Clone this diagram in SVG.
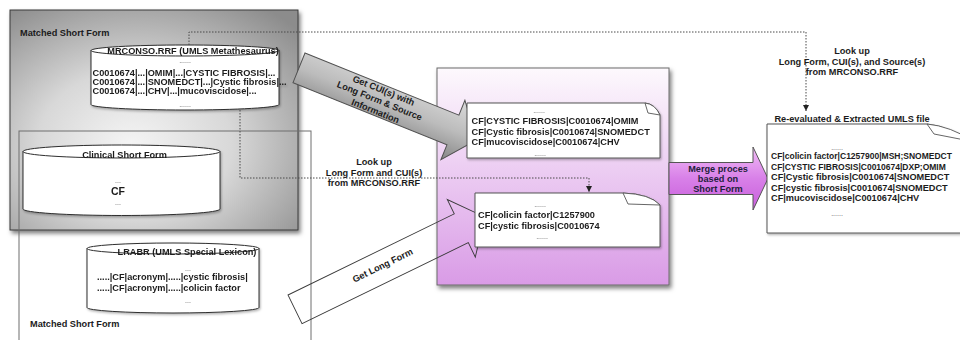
<svg xmlns="http://www.w3.org/2000/svg" width="960" height="340" viewBox="0 0 960 340">
<defs>
<style>
.t{font-family:"Liberation Sans",Arial,Helvetica,sans-serif;font-weight:bold;font-size:9.2px;fill:#1c1c1c}
.m{text-anchor:middle}
.big{font-size:10.5px}
.sm{font-size:8.5px}
.lbl{fill:#1e1e3c}
.d{font-family:"Liberation Sans",Arial,sans-serif;font-size:7px;fill:#555;text-anchor:middle}
.cyl{fill:#fff;stroke:#2e2e2e;stroke-width:1}
.arc{fill:none;stroke:#2e2e2e;stroke-width:1}
.note{fill:#fff;stroke:#555;stroke-width:1}
.flap{fill:#fff;stroke:#555;stroke-width:0.9;stroke-linejoin:round}
.dot{fill:none;stroke:#4a4a4a;stroke-width:1;stroke-dasharray:1.5 1.5}
</style>
<radialGradient id="gg" cx="0.45" cy="0.6" r="0.75" fx="0.42" fy="0.62">
<stop offset="0" stop-color="#f5f5f5"/>
<stop offset="0.45" stop-color="#d8d8d8"/>
<stop offset="1" stop-color="#8c8c8c"/>
</radialGradient>
<linearGradient id="pg" x1="0" y1="0" x2="0" y2="1">
<stop offset="0" stop-color="#fdf9fd"/>
<stop offset="1" stop-color="#d99be6"/>
</linearGradient>
<linearGradient id="ag" x1="0" y1="0" x2="0" y2="1">
<stop offset="0" stop-color="#dadada"/>
<stop offset="0.5" stop-color="#bcbcbc"/>
<stop offset="1" stop-color="#868686"/>
</linearGradient>
<linearGradient id="mg" x1="0" y1="0" x2="0" y2="1">
<stop offset="0" stop-color="#f2bdf7"/>
<stop offset="0.5" stop-color="#d880e8"/>
<stop offset="1" stop-color="#c85edb"/>
</linearGradient>
<filter id="sh" x="-10%" y="-10%" width="130%" height="130%">
<feDropShadow dx="2" dy="3" stdDeviation="2" flood-color="#000" flood-opacity="0.5"/>
</filter>
<filter id="sh2" x="-10%" y="-10%" width="130%" height="130%">
<feDropShadow dx="1" dy="1.5" stdDeviation="1" flood-color="#000" flood-opacity="0.3"/>
</filter>
<marker id="ah" viewBox="0 0 8 8" refX="8" refY="4" markerWidth="6" markerHeight="6" markerUnits="userSpaceOnUse" orient="auto">
<path d="M0,0 L8,4 L0,8 Z" fill="#222"/>
</marker>
</defs>

<g id="matched-short-form-top">
<rect x="10" y="10" width="288" height="220" fill="url(#gg)" stroke="#3a3a3a" stroke-width="1" filter="url(#sh)"/>
<text class="t" x="20" y="36">Matched Short Form</text>
</g>

<g id="matched-short-form-bottom">
<rect x="19" y="131" width="292" height="216" fill="none" stroke="#6e6e6e" stroke-width="1"/>
<text class="t" x="30" y="327">Matched Short Form</text>
</g>

<g id="mrconso" filter="url(#sh2)">
<path class="cyl" d="M91,50.5 V104.5 A94,5.5 0 0 0 279,104.5 V50.5 A94,5.5 0 0 0 91,50.5 Z"/>
<path class="arc" d="M91,50.5 A94,5.5 0 0 0 279,50.5"/>
<text class="t m" x="193" y="53.5">MRCONSO.RRF (UMLS Metathesaurus)</text>
<text class="d" x="185" y="63">......</text>
<text class="t" x="92.5" y="76">C0010674|...|OMIM|...|CYSTIC FIBROSIS|...</text>
<text class="t" x="92.5" y="85">C0010674|...|SNOMEDCT|...|Cystic fibrosis|...</text>
<text class="t" x="92.5" y="94">C0010674|...|CHV|...|mucoviscidose|...</text>
<text class="d" x="185" y="107">......</text>
</g>

<g id="clinical-short-form" filter="url(#sh2)">
<path class="cyl" d="M23,151.5 V209 A98.5,6.5 0 0 0 220,209 V151.5 A98.5,6.5 0 0 0 23,151.5 Z"/>
<path class="arc" d="M23,151.5 A98.5,6.5 0 0 0 220,151.5"/>
<text class="t m" x="124.5" y="157.5">Clinical Short Form</text>
<text class="d" x="118" y="183">...</text>
<text class="t m big" x="118" y="195">CF</text>
<text class="d" x="118" y="205">...</text>
</g>

<g id="lrabr" filter="url(#sh2)">
<path class="cyl" d="M87,248.5 V307.5 A86,5.5 0 0 0 259,307.5 V248.5 A86,5.5 0 0 0 87,248.5 Z"/>
<path class="arc" d="M87,248.5 A86,5.5 0 0 0 259,248.5"/>
<text class="t m" x="187" y="254.5">LRABR (UMLS Special Lexicon)</text>
<text class="d" x="188" y="271">...</text>
<text class="t" x="97" y="280">.....|CF|acronym|.....|cystic fibrosis|</text>
<text class="t" x="97" y="291">.....|CF|acronym|.....|colicin factor</text>
<text class="d" x="188" y="303">...</text>
</g>

<g id="merge-container">
<rect x="437" y="68" width="232" height="217" fill="url(#pg)" stroke="#6a6a6a" stroke-width="1" filter="url(#sh)"/>
</g>

<g id="connectors">
<g transform="translate(305,53) rotate(22)">
<polygon points="0,0 166,0 166,-16 192,16 166,48 166,32 0,32" fill="url(#ag)" stroke="#505050" stroke-width="1" stroke-linejoin="miter"/>
<text class="t m" x="87" y="8.5">Get CUI(s) with</text>
<text class="t m" x="87" y="19.5">Long Form &amp; Source</text>
<text class="t m" x="87" y="30.5">Information</text>
</g>
<g transform="translate(288,295) rotate(-26)">
<polygon points="0,0 185,0 185,-16 211,16 185,48 185,32 0,32" fill="none" stroke="#3a3a3a" stroke-width="0.9"/>
<text class="t m" x="98" y="18">Get Long Form</text>
</g>
<polygon points="669,162.5 753,162.5 753,147 768,178.5 753,210 753,194.5 669,194.5" fill="url(#mg)" stroke="#555" stroke-width="1"/>
<text class="t m lbl" x="718" y="171.5">Merge proces</text>
<text class="t m lbl" x="718" y="181.8">based on</text>
<text class="t m lbl" x="718" y="192.3">Short Form</text>
<path class="dot" d="M189,45 V32 H806 V111" marker-end="url(#ah)"/>
<path class="dot" d="M240,110 V178 H589 V192" marker-end="url(#ah)"/>
<text class="t m" x="852" y="54">Look up</text>
<text class="t m" x="852" y="64.5">Long Form, CUI(s), and Source(s)</text>
<text class="t m" x="852" y="75">from MRCONSO.RRF</text>
<text class="t m" x="374" y="165">Look up</text>
<text class="t m" x="374" y="175.5">Long Form and CUI(s)</text>
<text class="t m" x="374" y="186">from MRCONSO.RRF</text>
</g>

<g id="note-cui-source" filter="url(#sh2)">
<path class="note" d="M467,103 H645 Q655,104 660,115 V158 H467 Z"/>
<path class="flap" d="M645,103 L648,113 L660,115 Q655,104 645,103 Z"/>
<text class="d" x="539" y="113">......</text>
<text class="t" x="471.5" y="124">CF|CYSTIC FIBROSIS|C0010674|OMIM</text>
<text class="t" x="471.5" y="134.5">CF|Cystic fibrosis|C0010674|SNOMEDCT</text>
<text class="t" x="471.5" y="145">CF|mucoviscidose|C0010674|CHV</text>
<text class="d" x="540" y="156">......</text>
</g>

<g id="note-long-form-cui" filter="url(#sh2)">
<path class="note" d="M475,193 H623 Q650,194 660,205 V247 H475 Z"/>
<path class="flap" d="M623,193 L628,204 L660,205 Q650,194 623,193 Z"/>
<text class="d" x="540" y="207">......</text>
<text class="t" x="478" y="217.5">CF|colicin factor|C1257900</text>
<text class="t" x="478" y="228.5">CF|cystic fibrosis|C0010674</text>
<text class="d" x="542" y="239">......</text>
</g>

<g id="extracted-umls-file">
<text class="t m" x="852" y="121.5">Re-evaluated &amp; Extracted UMLS file</text>
<g filter="url(#sh2)">
<path class="note" d="M767,124 H927 Q950,126 975,145 V233 H767 Z"/>
<path class="flap" d="M927,124 L934,134 L975,142 Q950,126 927,124 Z"/>
</g>
<text class="d" x="837" y="150">......</text>
<text class="t sm" x="771" y="159.3">CF|colicin factor|C1257900|MSH;SNOMEDCT</text>
<text class="t sm" x="771" y="169.8">CF|CYSTIC FIBROSIS|C0010674|DXP;OMIM</text>
<text class="t" x="771" y="180.3">CF|Cystic fibrosis|C0010674|SNOMEDCT</text>
<text class="t" x="771" y="190.8">CF|cystic fibrosis|C0010674|SNOMEDCT</text>
<text class="t" x="771" y="201.3">CF|mucoviscidose|C0010674|CHV</text>
<text class="d" x="837" y="216">......</text>
</g>
</svg>
